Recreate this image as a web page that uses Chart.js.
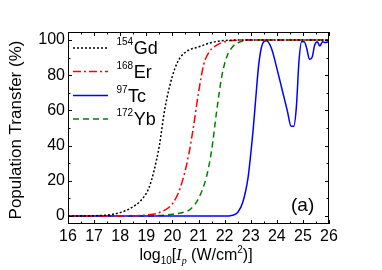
<!DOCTYPE html>
<html>
<head>
<meta charset="utf-8">
<script src="https://cdn.jsdelivr.net/npm/chart.js@4"></script>
<style>
  body { margin: 0; background: #fff; }
  #wrap { width: 382px; height: 270px; }
</style>
</head>
<body>
<div id="wrap"><canvas id="chart" width="382" height="270"></canvas></div>
<script>
// data: x = log10 intensity, y = population transfer (%)
var gdX = [16, 17, 17.5, 18, 18.4, 18.8, 19.1, 19.3, 19.5, 19.7, 19.9, 20.1, 20.3, 20.6, 21.0, 21.5, 22, 23, 26];
var gdY = [0, 0.2, 0.6, 2, 4.5, 9, 16, 26, 40, 60, 74, 84, 90, 94, 96, 98.5, 99.7, 100, 100];

var erX = [16, 18, 19, 19.5, 20, 20.3, 20.6, 20.8, 21.0, 21.2, 21.4, 21.6, 21.9, 22.3, 23, 26];
var erY = [0, 0.1, 0.6, 2, 7, 16, 33, 50, 70, 86, 93, 96, 98.5, 99.7, 100, 100];

var tcX = [16, 22, 22.3, 22.5, 22.7, 22.9, 23.0, 23.1, 23.2, 23.3, 23.4, 23.5, 23.6, 23.8, 24.0, 24.2, 24.4, 24.55, 24.65, 24.75, 24.85, 24.95, 25.05, 25.15, 25.25, 25.35, 25.45, 25.55, 25.65, 25.75, 25.85, 26];
var tcY = [0, 0, 0.5, 2, 8, 22, 35, 50, 68, 85, 95, 99, 99.5, 95, 84, 72, 60, 51, 51, 62, 88, 99, 99, 95, 89, 90, 97, 99, 96.5, 99, 98.5, 99];

var ybX = [16, 19, 20, 20.5, 20.7, 21.0, 21.3, 21.5, 21.7, 21.9, 22.1, 22.3, 22.6, 23, 26];
var ybY = [0, 0.1, 1, 2.5, 4, 10, 22, 37, 60, 80, 91, 96, 99, 100, 100];

var xTicks = [16, 17, 18, 19, 20, 21, 22, 23, 24, 25, 26];
var yTicks = [0, 20, 40, 60, 80, 100];

var isotopes = [
  { mass: '154', name: 'Gd', x: gdX, y: gdY, color: '#000000', dash: [2, 2] },
  { mass: '168', name: 'Er', x: erX, y: erY, color: '#ff0000', dash: [8, 3, 2, 3] },
  { mass: '97', name: 'Tc', x: tcX, y: tcY, color: '#0000ff', dash: [] },
  { mass: '172', name: 'Yb', x: ybX, y: ybY, color: '#008000', dash: [6, 4] }
];

var sans = 'Liberation Sans, Arial, sans-serif';

function toPoints(xs, ys) {
  var pts = [];
  for (var i = 0; i < xs.length; i++) pts.push({ x: xs[i], y: ys[i] });
  return pts;
}

var datasets = isotopes.map(function (iso) {
  return {
    label: iso.mass + iso.name,
    data: toPoints(iso.x, iso.y),
    borderColor: iso.color,
    borderDash: iso.dash,
    borderWidth: 1.5,
    pointRadius: 0,
    fill: false,
    cubicInterpolationMode: 'monotone'
  };
});

// frame, inside ticks, legend, axis titles and panel label
var decor = {
  id: 'decor',
  afterDatasetsDraw: function (chart) {
    var ctx = chart.ctx;
    var a = chart.chartArea;
    var xs = chart.scales.x, ys = chart.scales.y;
    ctx.save();
    ctx.strokeStyle = '#000';
    ctx.lineWidth = 1;
    ctx.setLineDash([]);
    ctx.strokeRect(a.left + 0.5, a.top + 0.5, a.right - a.left - 1, a.bottom - a.top - 1);

    ctx.beginPath();
    for (var v = 16; v <= 26.001; v += 0.5) {
      var px = Math.round(xs.getPixelForValue(v)) + 0.5;
      var len = (Math.abs(v - Math.round(v)) < 0.01) ? 4 : 2.5;
      ctx.moveTo(px, a.bottom); ctx.lineTo(px, a.bottom - len);
      ctx.moveTo(px, a.top); ctx.lineTo(px, a.top + len);
    }
    for (var w = 0; w <= 100; w += 10) {
      var py = Math.round(ys.getPixelForValue(w)) + 0.5;
      var l2 = (w % 20 === 0) ? 4 : 2.5;
      ctx.moveTo(a.left, py); ctx.lineTo(a.left + l2, py);
      ctx.moveTo(a.right, py); ctx.lineTo(a.right - l2, py);
    }
    ctx.stroke();

    // legend
    var rows = [48, 71.5, 95.5, 119];
    isotopes.forEach(function (iso, i) {
      var y = rows[i];
      ctx.beginPath();
      ctx.strokeStyle = iso.color;
      ctx.lineWidth = 1.5;
      ctx.setLineDash(iso.dash);
      ctx.moveTo(73, y); ctx.lineTo(108, y);
      ctx.stroke();
      ctx.setLineDash([]);
      ctx.fillStyle = '#000';
      ctx.textBaseline = 'alphabetic';
      ctx.textAlign = 'left';
      ctx.font = '10px ' + sans;
      ctx.fillText(iso.mass, 116.5, y - 3);
      var mw = ctx.measureText(iso.mass).width;
      ctx.font = '18px ' + sans;
      ctx.fillText(iso.name, 116.5 + mw + 0.5, y + 6);
    });

    // panel label
    ctx.font = '19px ' + sans;
    ctx.fillText('(a)', 291, 211);

    // y title
    ctx.save();
    ctx.translate(21, (a.top + a.bottom) / 2 + 2);
    ctx.rotate(-Math.PI / 2);
    ctx.textAlign = 'center';
    ctx.textBaseline = 'alphabetic';
    ctx.font = '17px ' + sans;
    ctx.fillText('Population Transfer (%)', 0, 0);
    ctx.restore();

    // x title: log10[Ip (W/cm2)]
    var parts = [
      { t: 'log', f: '16px ' + sans, dy: 0 },
      { t: '10', f: '10px ' + sans, dy: 4 },
      { t: '[', f: '16px ' + sans, dy: 0 },
      { t: 'I', f: 'italic 16px Liberation Serif, serif', dy: 0 },
      { t: 'p', f: 'italic 10px Liberation Serif, serif', dy: 4 },
      { t: ' (W/cm', f: '16px ' + sans, dy: 0 },
      { t: '2', f: '10px ' + sans, dy: -7 },
      { t: ')]', f: '16px ' + sans, dy: 0 }
    ];
    ctx.textAlign = 'left';
    var total = 0;
    parts.forEach(function (p) { ctx.font = p.f; total += ctx.measureText(p.t).width; });
    var cx = 196 - total / 2, base = 260;
    parts.forEach(function (p) {
      ctx.font = p.f;
      ctx.fillText(p.t, cx, base + p.dy);
      cx += ctx.measureText(p.t).width;
    });
    ctx.restore();
  }
};

new Chart(document.getElementById('chart'), {
  type: 'line',
  data: { datasets: datasets },
  options: {
    responsive: false,
    animation: false,
    layout: { padding: { left: 0, top: 32, right: 53, bottom: 0 } },
    plugins: { legend: { display: false }, tooltip: { enabled: false } },
    scales: {
      x: {
        type: 'linear',
        min: 16,
        max: 26,
        afterBuildTicks: function (s) { s.ticks = xTicks.map(function (v) { return { value: v }; }); },
        afterFit: function (s) { s.height = 46; },
        ticks: { color: '#000', font: { family: sans, size: 16 }, padding: 3, maxRotation: 0, autoSkip: false },
        grid: { display: false, drawTicks: false },
        border: { display: false }
      },
      y: {
        min: -4.5,
        max: 104.5,
        afterBuildTicks: function (s) { s.ticks = yTicks.map(function (v) { return { value: v }; }); },
        afterFit: function (s) { s.width = 68; },
        ticks: { color: '#000', font: { family: sans, size: 16 }, padding: 3 },
        grid: { display: false, drawTicks: false },
        border: { display: false }
      }
    }
  },
  plugins: [decor]
});
</script>
</body>
</html>
